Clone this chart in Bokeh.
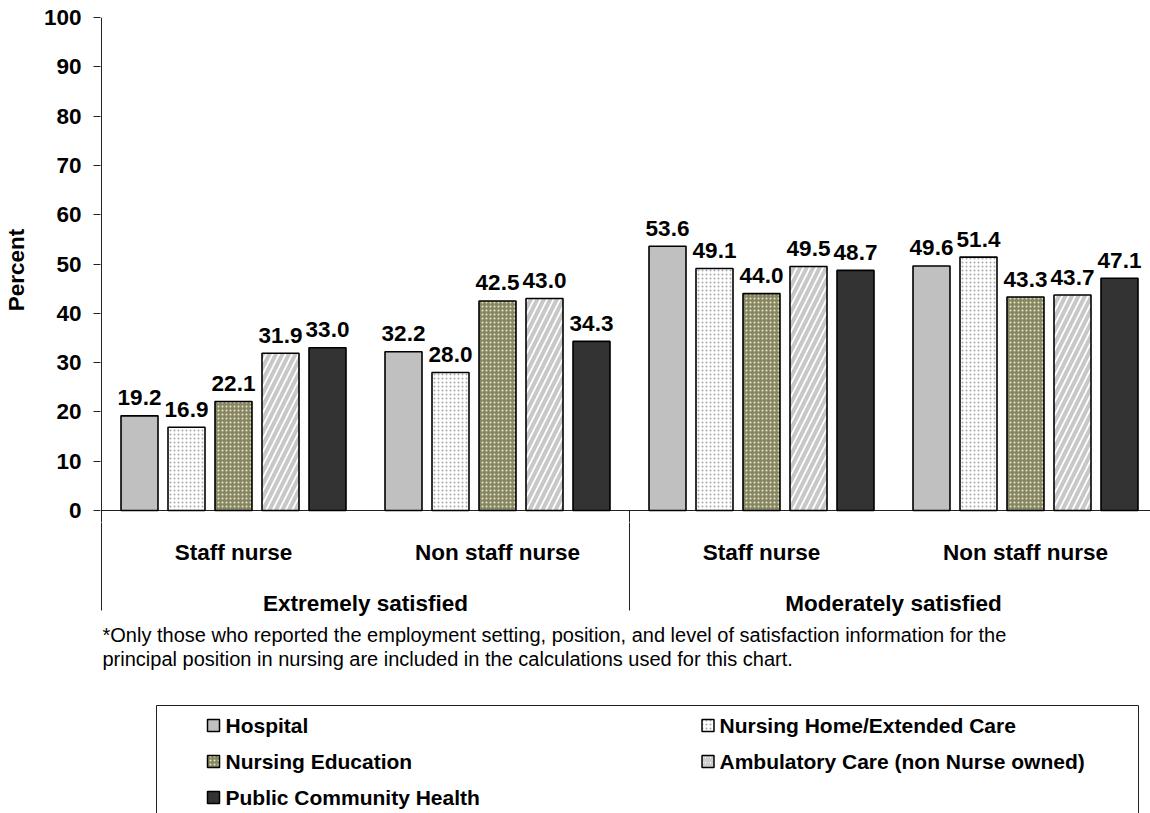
from bokeh.plotting import figure
from bokeh.layouts import column
from bokeh.models import Range1d, FixedTicker, ColumnDataSource
from bokeh.core.properties import value
from bokeh.embed import file_html
from bokeh.resources import INLINE

# ---------------- data ----------------
satisfaction_groups = ["Extremely satisfied", "Moderately satisfied"]
positions = ["Staff nurse", "Non staff nurse", "Staff nurse", "Non staff nurse"]
settings = ["Hospital", "Nursing Home/Extended Care", "Nursing Education",
            "Ambulatory Care (non Nurse owned)", "Public Community Health"]
hospital = [19.2, 32.2, 53.6, 49.6]
nursing_home = [16.9, 28.0, 49.1, 51.4]
nursing_education = [22.1, 42.5, 44.0, 43.3]
ambulatory_care = [31.9, 43.0, 49.5, 43.7]
public_health = [33.0, 34.3, 48.7, 47.1]
y_ticks = [0, 10, 20, 30, 40, 50, 60, 70, 80, 90, 100]
footnote = ["*Only those who reported the employment setting, position, and level of satisfaction information for the",
            "principal position in nursing are included in the calculations used for this chart."]

series = [hospital, nursing_home, nursing_education, ambulatory_care, public_health]

# ---------------- styles ----------------
styles = [
    dict(fill_color="#C0C0C0", hatch_pattern=None),
    dict(fill_color="#FFFFFF", hatch_pattern="dot", hatch_color="#A8A8A8", hatch_scale=4, hatch_weight=1),
    dict(fill_color="#86856A", hatch_pattern="dot", hatch_color="#EDEBA8", hatch_scale=4, hatch_weight=1),
    dict(fill_color="#FFFFFF", hatch_pattern="right_diagonal_line", hatch_color="#C8C8C8", hatch_scale=13, hatch_weight=4),
    dict(fill_color="#333333", hatch_pattern=None),
]
FONT = "Liberation Sans"
BOLD_SIZE = "22.5px"

W, H = 1150, 813
BORDER_L, BORDER_T = 100, 17
TOP_H = 522
BOT_H = H - TOP_H
PX_X = 264.0      # pixels per category unit
PX_Y = 4.93       # pixels per percent
frame_w = W - BORDER_L
X0 = -1.0 / PX_X
x_range = Range1d(X0, X0 + frame_w / PX_X)

# page-pixel helpers for layout elements below the plot
ORIGIN_X, ORIGIN_Y = 100.0, 510.0
def px_x(px):
    return (px - ORIGIN_X) / PX_X
def px_y(py):
    return (ORIGIN_Y - py) / PX_Y

def style_fig(f):
    f.outline_line_color = None
    f.xgrid.visible = False
    f.ygrid.visible = False
    f.background_fill_color = "white"
    f.border_fill_color = "white"

n_cat = len(positions)
axis_bottom = px_y(610)

# ---------------- main chart ----------------
p = figure(width=W, height=TOP_H, x_range=x_range,
           y_range=Range1d(px_y(TOP_H), 100),
           output_backend="svg", toolbar_location=None,
           min_border_left=BORDER_L, min_border_right=0,
           min_border_top=BORDER_T, min_border_bottom=0,
           x_axis_location=None, y_axis_location="left")
style_fig(p)

yax = p.yaxis[0]
yax.ticker = FixedTicker(ticks=y_ticks)
yax.bounds = (0, 100)
yax.axis_line_color = None
yax.major_tick_line_color = "#222222"
yax.major_tick_out = 7
yax.major_tick_in = 0
yax.minor_tick_out = 0
yax.minor_tick_in = 0
yax.major_label_standoff = 12
yax.major_label_text_font = FONT
yax.major_label_text_font_style = "bold"
yax.major_label_text_font_size = BOLD_SIZE
yax.major_label_text_color = "black"
yax.axis_label = "Percent"
yax.axis_label_standoff = 12
yax.axis_label_text_font = FONT
yax.axis_label_text_font_style = "bold"
yax.axis_label_text_font_size = BOLD_SIZE
yax.axis_label_text_color = "black"

# y axis line, x axis line, group divider (upper part)
p.segment(x0=[0, 0, 2], y0=[px_y(TOP_H), 0, px_y(TOP_H)], x1=[0, n_cat, 2], y1=[100, 0, 0],
          line_color="#222222", line_width=1)

BAR_STEP = 47.0 / PX_X
BAR_W = 37.0 / PX_X
centers = [i + 0.5 for i in range(n_cat)]
for k, (vals, st) in enumerate(zip(series, styles)):
    xs = [c + (k - 2) * BAR_STEP for c in centers]
    src = ColumnDataSource(dict(x=xs, top=vals, lab=["%.1f" % v for v in vals]))
    kw = dict(fill_color=st["fill_color"], line_color="black", line_width=1.6)
    if st["hatch_pattern"]:
        kw.update(hatch_pattern=st["hatch_pattern"], hatch_color=st["hatch_color"],
                  hatch_scale=st["hatch_scale"], hatch_weight=st["hatch_weight"])
    p.vbar(x="x", top="top", bottom=0, width=BAR_W, source=src, **kw)
    p.text(x="x", y="top", text="lab", source=src, y_offset=-18,
           text_align="center", text_baseline="alphabetic",
           text_font=value(FONT), text_font_style="bold", text_font_size=BOLD_SIZE,
           text_color="black")

# ---------------- category axis area, footnote and legend ----------------
b = figure(width=W, height=BOT_H, x_range=x_range,
           y_range=Range1d(px_y(H), px_y(TOP_H)),
           output_backend="svg", toolbar_location=None,
           min_border_left=BORDER_L, min_border_right=0,
           min_border_top=0, min_border_bottom=0,
           x_axis_location=None, y_axis_location=None)
style_fig(b)

b.segment(x0=[0, 2], y0=[axis_bottom, axis_bottom], x1=[0, 2], y1=[px_y(TOP_H) + 1, px_y(TOP_H) + 1],
          line_color="#222222", line_width=1)

b.text(x=centers, y=[px_y(552)] * n_cat, text=positions, text_align="center",
       text_baseline="alphabetic", text_font=value(FONT), text_font_style="bold",
       text_font_size=BOLD_SIZE, text_color="black")
b.text(x=[1, 3], y=[px_y(603)] * 2, text=satisfaction_groups, text_align="center",
       text_baseline="alphabetic", text_font=value(FONT), text_font_style="bold",
       text_font_size=BOLD_SIZE, text_color="black")

b.text(x=[px_x(101)] * 2, y=[px_y(634.5), px_y(658.5)], text=footnote, text_align="left",
       text_baseline="alphabetic", text_font=value(FONT), text_font_size="20px",
       text_color="black")

# legend
b.quad(left=px_x(155), right=px_x(1137), top=px_y(705), bottom=px_y(H) - 5,
       fill_color=None, line_color="#222222", line_width=1)
col_sw = [px_x(212), px_x(706.5)]
col_tx = [px_x(224), px_x(718)]
rows = [px_y(725), px_y(761), px_y(797)]
for k, (name, st) in enumerate(zip(settings, styles)):
    r, c = divmod(k, 2)
    kw = dict(fill_color=st["fill_color"], line_color="black", line_width=1.5)
    if st["hatch_pattern"]:
        kw.update(hatch_pattern=st["hatch_pattern"], hatch_color=st["hatch_color"],
                  hatch_scale=min(st["hatch_scale"], 5), hatch_weight=min(st["hatch_weight"], 2))
    b.rect(x=[col_sw[c]], y=[rows[r]], width=12, height=12, width_units="screen",
           height_units="screen", **kw)
    b.text(x=[col_tx[c]], y=[rows[r]], text=[name], text_align="left", text_baseline="middle",
           text_font=value(FONT), text_font_style="bold", text_font_size="21px",
           text_color="black")

layout = column(p, b, spacing=0)
open("out.html", "w").write(file_html(layout, INLINE))
